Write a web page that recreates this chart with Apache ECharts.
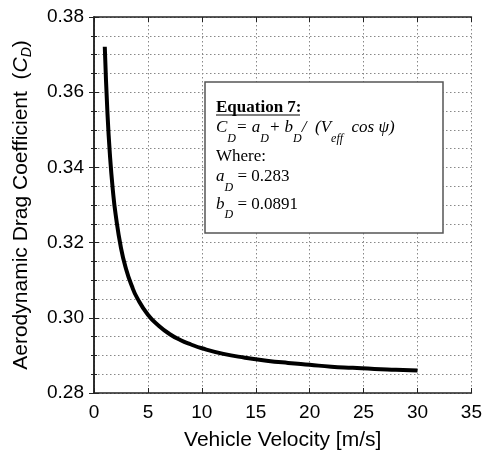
<!DOCTYPE html>
<html><head><meta charset="utf-8">
<script src="https://cdn.jsdelivr.net/npm/echarts@6/dist/echarts.min.js"></script>
<style>html,body{margin:0;padding:0;background:#fff}#c{width:485px;height:459px}</style>
</head><body><div id="c"></div>
<script>
var velocity = [1,1.25,1.5,1.75,2,2.5,3,3.5,4,5,6,7,8,9,10,12,14,16,18,20,22,24,26,28,30];
var dragCoef = [0.3721,0.3543,0.3424,0.3339,0.3276,0.3186,0.3127,0.3085,0.3053,0.3008,0.2979,0.2957,0.2941,0.2929,0.2919,0.2904,0.2894,0.2886,0.2880,0.2875,0.2870,0.2867,0.2864,0.2862,0.2860];
var xTicks = [0,5,10,15,20,25,30,35];
var yTicks = [0.28,0.30,0.32,0.34,0.36,0.38];

var chart = echarts.init(document.getElementById('c'));
var sansFont = '"Liberation Sans", Arial, sans-serif';
var serifFont = '"Liberation Serif", "Times New Roman", serif';
var dotted = {show:true, lineStyle:{color:'#888', type:[1.5,2.5], width:1}};
var axLine = {show:true, lineStyle:{color:'#222', width:1.5}};
var pts = velocity.map(function(v,i){return [v, dragCoef[i]];});

var rich = {
  n:{fontSize:17, fontFamily:serifFont, color:'#000', lineHeight:20, verticalAlign:'top'},
  i:{fontSize:17, fontFamily:serifFont, fontStyle:'italic', color:'#000', lineHeight:20, verticalAlign:'top'},
  b:{fontSize:17, fontFamily:serifFont, fontWeight:'bold', color:'#000', lineHeight:20, verticalAlign:'top'},
  s:{fontSize:12, fontFamily:serifFont, fontStyle:'italic', color:'#000', lineHeight:25, verticalAlign:'bottom'}
};
function boxLine(txt, y){
  return {type:'text', x:216, y:y, z:11, style:{text:txt, rich:rich, verticalAlign:'top', align:'left'}};
}

chart.setOption({
  animation:false,
  grid:{left:94, right:13, top:17, bottom:66},
  xAxis:[{
    type:'value', min:xTicks[0], max:xTicks[xTicks.length-1], interval:5,
    name:'Vehicle Velocity [m/s]', nameLocation:'middle', nameGap:37,
    nameTextStyle:{fontFamily:sansFont, fontSize:21, color:'#000'},
    axisLine:axLine, axisTick:{show:true, inside:true, length:5, lineStyle:{color:'#222'}},
    axisLabel:{fontFamily:sansFont, fontSize:19, color:'#000', margin:10},
    splitLine:dotted
  },{
    type:'value', position:'top', min:xTicks[0], max:xTicks[xTicks.length-1], interval:5,
    axisLine:axLine, axisTick:{show:true, inside:true, length:5, lineStyle:{color:'#222'}},
    axisLabel:{show:false}, splitLine:{show:false}
  }],
  yAxis:[{
    type:'value', min:yTicks[0], max:yTicks[yTicks.length-1], interval:0.02,
    name:'{t|Aerodynamic Drag Coefficient  (}{c|C}{d|D}{t|)}', nameLocation:'middle', nameGap:60,
    nameTextStyle:{rich:{
      t:{fontFamily:sansFont, fontSize:21, color:'#000', lineHeight:26},
      c:{fontFamily:sansFont, fontSize:21, fontStyle:'italic', color:'#000', lineHeight:26},
      d:{fontFamily:sansFont, fontSize:14, fontStyle:'italic', color:'#000', lineHeight:8, verticalAlign:'bottom'}
    }},
    axisLine:axLine, axisTick:{show:true, inside:true, length:5, lineStyle:{color:'#222'}},
    minorTick:{show:true, splitNumber:4, length:3, lineStyle:{color:'#222'}},
    axisLabel:{fontFamily:sansFont, fontSize:19, color:'#000', margin:10, formatter:function(v){return v.toFixed(2);}},
    splitLine:dotted, minorSplitLine:dotted
  },{
    type:'value', position:'right', min:yTicks[0], max:yTicks[yTicks.length-1], interval:0.02,
    axisLine:axLine, axisTick:{show:true, inside:true, length:5, lineStyle:{color:'#222'}},
    minorTick:{show:true, splitNumber:4, length:3, lineStyle:{color:'#222'}},
    axisLabel:{show:false}, splitLine:{show:false}
  }],
  series:[{
    type:'line', data:pts, smooth:true, showSymbol:false,
    lineStyle:{color:'#000', width:4}, z:3
  }],
  graphic:[{
    type:'rect', shape:{x:205, y:82, width:238, height:151},
    style:{fill:'#fff', stroke:'#555', lineWidth:1.5}, z:10
  },
  boxLine('{b|Equation 7:}', 99),
  boxLine('{i|C}{s|D}{i|= a}{s|D}{i|+ b}{s|D}{i|/  (V}{s|eff}{i|  cos ψ)}', 119.5),
  boxLine('{n|Where:}', 148.5),
  boxLine('{i|a}{s|D}{n| = 0.283}', 168.5),
  boxLine('{i|b}{s|D}{n| = 0.0891}', 196),
  {
    type:'line', shape:{x1:216, y1:115, x2:300, y2:115}, style:{stroke:'#000', lineWidth:1.2}, z:12
  }]
});
</script></body></html>
